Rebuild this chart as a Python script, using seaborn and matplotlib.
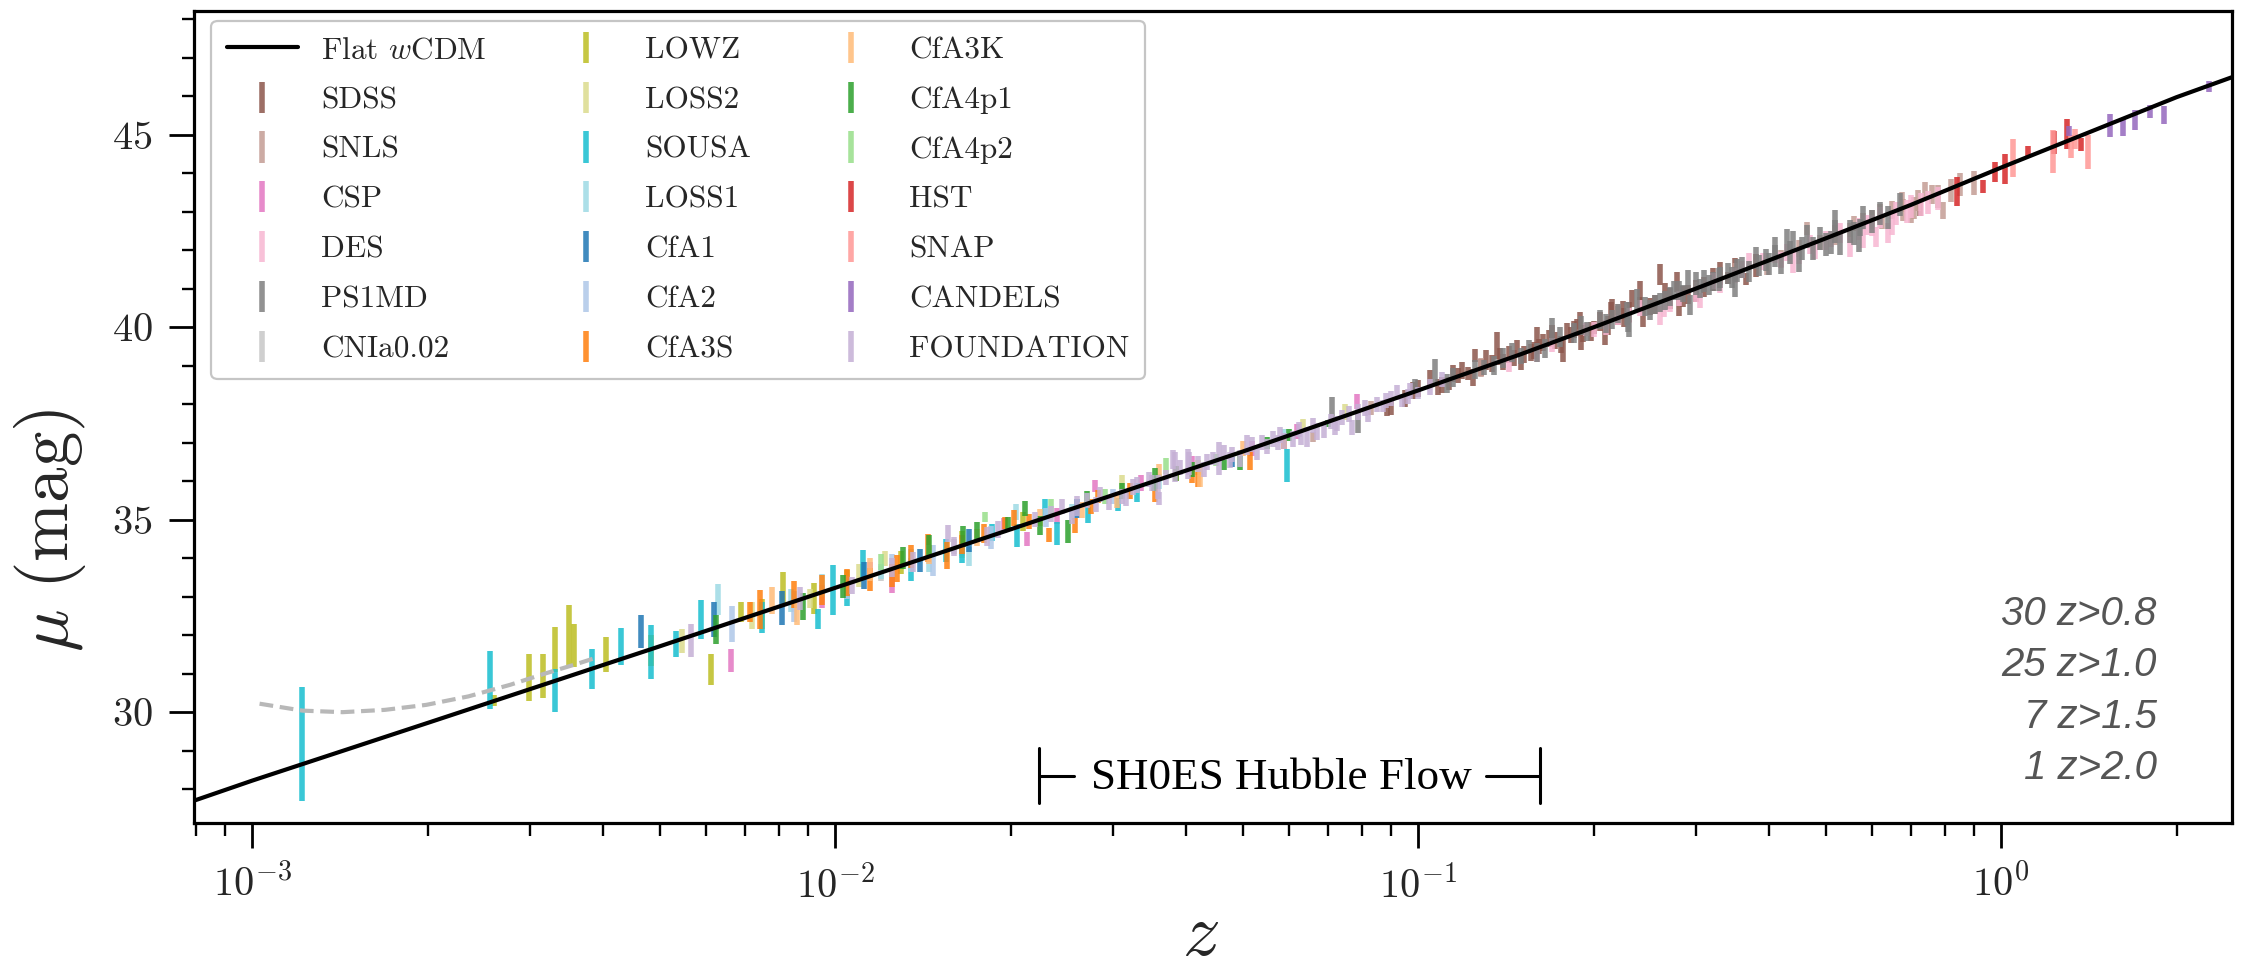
import numpy as np
import pandas as pd
import matplotlib
matplotlib.use("Agg")
import matplotlib.pyplot as plt
from matplotlib.ticker import MultipleLocator, LogLocator, NullFormatter
import seaborn as sns

# ---------------- data ----------------
model_z = [7.95e-4, 1e-3, 2e-3, 5e-3, 1e-2, 2e-2, 5e-2, 0.1, 0.15, 0.2, 0.3, 0.5, 0.7, 1.0, 1.5, 2.0, 2.49]
model_mu = [27.70, 28.22, 29.72, 31.71, 33.23, 34.75, 36.77, 38.36, 39.30, 40.00, 41.01, 42.31, 43.18, 44.15, 45.22, 45.98, 46.50]

pv_z = [1.03e-3, 1.22e-3, 1.43e-3, 1.69e-3, 1.99e-3, 2.35e-3, 2.77e-3, 3.16e-3, 3.60e-3, 3.90e-3]
pv_mu = [30.22, 30.04, 30.00, 30.06, 30.19, 30.41, 30.71, 30.99, 31.25, 31.42]

sdss_z = [0.0884, 0.110, 0.113, 0.119, 0.122, 0.125, 0.131, 0.1365, 0.140, 0.146, 0.152, 0.161, 0.1696, 0.177,
          0.180, 0.1896, 0.200, 0.209, 0.214, 0.215, 0.233, 0.240, 0.243, 0.260, 0.278, 0.340, 0.365, 0.725,
          0.105, 0.117, 0.158, 0.185, 0.225, 0.250, 0.290, 0.310,
          0.095, 0.100, 0.128, 0.134, 0.143, 0.148, 0.156, 0.164, 0.172, 0.183, 0.192, 0.205, 0.220, 0.230,
          0.255, 0.270, 0.300, 0.320, 0.350, 0.380,
          0.090, 0.098, 0.108, 0.115, 0.124, 0.138, 0.150, 0.168, 0.176, 0.187, 0.198, 0.212, 0.226, 0.265,
          0.285, 0.330, 0.160, 0.190, 0.240, 0.280]
sdss_mu = [37.92, 38.50, 38.55, 38.88, 38.80, 39.27, 39.15, 39.53, 39.10, 39.20, 39.30, 39.50, 39.88, 39.40,
           39.90, 40.18, 40.00, 39.80, 40.40, 40.48, 40.74, 40.65, 40.25, 41.37, 41.18, 41.28, 41.25, 43.10,
           38.70, 38.75, 39.40, 39.95, 40.45, 40.55, 40.85, 41.05,
           38.15, 38.40, 38.95, 39.05, 39.30, 39.45, 39.35, 39.60, 39.65, 39.80, 39.85, 40.15, 40.30, 40.40,
           40.60, 40.75, 40.95, 41.25, 41.50, 41.60,
           37.95, 38.35, 38.45, 38.80, 38.70, 39.25, 39.10, 39.70, 39.55, 40.00, 39.90, 40.05, 40.25, 40.90,
           40.80, 41.40, 39.75, 39.65, 40.90, 40.60]
sdss_err = [0.22, 0.20, 0.17, 0.22, 0.18, 0.17, 0.25, 0.35, 0.22, 0.20, 0.22, 0.20, 0.17, 0.30,
            0.20, 0.22, 0.17, 0.26, 0.26, 0.26, 0.22, 0.15, 0.25, 0.28, 0.26, 0.15, 0.15, 0.20,
            0.20, 0.20, 0.22, 0.22, 0.24, 0.22, 0.25, 0.25,
            0.22, 0.22, 0.22, 0.22, 0.22, 0.22, 0.22, 0.22, 0.22, 0.22, 0.22, 0.25, 0.25, 0.25,
            0.25, 0.28, 0.28, 0.30, 0.30, 0.30,
            0.22, 0.22, 0.22, 0.22, 0.22, 0.22, 0.22, 0.22, 0.22, 0.22, 0.25, 0.25, 0.25, 0.25,
            0.28, 0.30, 0.25, 0.25, 0.30, 0.30]

snls_z = [0.083, 0.128, 0.220, 0.397, 0.464, 0.490, 0.560, 0.625, 0.675, 0.700, 0.740, 0.760, 0.795, 0.066, 0.58, 0.65,
          0.30, 0.35, 0.42, 0.52, 0.60, 0.68, 0.72, 0.78, 0.82, 0.90, 0.45, 0.55, 0.62, 0.71, 0.85]
snls_mu = [37.90, 38.96, 40.40, 41.55, 42.56, 42.20, 42.70, 42.75, 43.25, 43.00, 43.56, 43.45, 43.04, 37.15, 42.75, 43.05,
           40.95, 41.45, 41.80, 42.40, 42.80, 43.05, 43.30, 43.40, 43.55, 43.75, 42.05, 42.45, 42.95, 43.10, 43.70]
snls_err = [0.18, 0.25, 0.20, 0.20, 0.17, 0.20, 0.20, 0.20, 0.26, 0.30, 0.22, 0.25, 0.22, 0.13, 0.22, 0.24,
            0.22, 0.22, 0.22, 0.25, 0.25, 0.28, 0.28, 0.30, 0.30, 0.30, 0.22, 0.25, 0.25, 0.28, 0.30]

csp_z = [6.62e-3, 1.15e-2, 2.13e-2, 2.79e-2, 0.041, 0.0785, 0.0165, 0.024, 0.0335, 0.052, 0.062, 0.0095, 0.0125, 0.0195]
csp_mu = [31.35, 33.75, 34.50, 35.87, 36.45, 38.08, 34.25, 35.10, 35.95, 36.85, 37.30, 33.00, 33.35, 34.85]
csp_err = [0.30, 0.15, 0.17, 0.15, 0.20, 0.19, 0.20, 0.20, 0.20, 0.20, 0.20, 0.30, 0.25, 0.20]

des_z = [0.143, 0.194, 0.220, 0.264, 0.305, 0.370, 0.410, 0.450, 0.510, 0.550, 0.590, 0.610, 0.640, 0.17, 0.33, 0.48,
         0.20, 0.24, 0.28, 0.32, 0.35, 0.39, 0.43, 0.47, 0.53, 0.57, 0.62, 0.66, 0.69, 0.73, 0.78,
         0.16, 0.21, 0.23, 0.27, 0.30, 0.36, 0.42, 0.50, 0.60, 0.70, 0.75, 0.26, 0.44, 0.58, 0.65]
des_mu = [39.02, 39.95, 40.20, 40.45, 40.70, 41.72, 41.85, 41.85, 42.30, 42.10, 42.65, 42.35, 42.45, 39.55, 41.10, 42.00,
          39.95, 40.50, 40.75, 41.20, 41.35, 41.70, 41.95, 42.15, 42.45, 42.55, 42.85, 42.95, 43.00, 43.20, 43.35,
          39.30, 40.00, 40.30, 40.60, 40.85, 41.50, 41.75, 42.25, 42.65, 43.15, 43.25, 40.30, 41.70, 42.35, 42.70]
des_err = [0.18, 0.17, 0.13, 0.17, 0.20, 0.20, 0.17, 0.20, 0.20, 0.26, 0.26, 0.26, 0.26, 0.18, 0.20, 0.22,
           0.20, 0.20, 0.20, 0.20, 0.20, 0.22, 0.22, 0.25, 0.25, 0.28, 0.28, 0.30, 0.30, 0.30, 0.30,
           0.20, 0.20, 0.20, 0.20, 0.20, 0.22, 0.22, 0.25, 0.28, 0.30, 0.30, 0.25, 0.30, 0.30, 0.30]

ps1_z = [0.0712, 0.079, 0.0989, 0.107, 0.155, 0.228, 0.237, 0.229, 0.285, 0.293, 0.300, 0.315, 0.328, 0.352,
         0.385, 0.420, 0.429, 0.440, 0.475, 0.530, 0.573, 0.19, 0.205, 0.255, 0.27,
         0.115, 0.125, 0.135, 0.145, 0.165, 0.175, 0.195, 0.215, 0.245, 0.265, 0.280, 0.305, 0.320, 0.340,
         0.360, 0.370, 0.395, 0.410, 0.455, 0.490, 0.510, 0.550, 0.600, 0.620, 0.130, 0.150,
         0.112, 0.140, 0.160, 0.185, 0.210, 0.220, 0.250, 0.260, 0.275, 0.310, 0.330, 0.345, 0.380, 0.400,
         0.435, 0.465, 0.500, 0.520, 0.560, 0.580, 0.640, 0.670,
         0.170, 0.230, 0.290, 0.350, 0.410, 0.450, 0.520, 0.570]
ps1_mu = [37.91, 37.52, 38.49, 38.83, 39.50, 40.35, 40.70, 40.14, 40.87, 40.57, 41.15, 41.09, 41.25, 41.48,
          41.60, 41.60, 42.26, 42.25, 42.05, 42.18, 42.60, 40.05, 40.20, 40.60, 40.80,
          38.70, 38.90, 39.00, 39.35, 39.45, 39.75, 39.90, 40.20, 40.55, 40.70, 40.95, 41.00, 41.20, 41.40,
          41.55, 41.45, 41.75, 41.85, 42.05, 42.30, 42.20, 42.50, 42.75, 42.95, 38.95, 39.25,
          38.55, 39.20, 39.35, 39.85, 40.10, 40.35, 40.45, 40.65, 40.95, 41.20, 41.30, 41.30, 41.80, 41.65,
          41.95, 42.35, 42.15, 42.50, 42.45, 42.85, 42.85, 43.20,
          39.95, 40.05, 41.20, 41.10, 42.05, 41.75, 42.70, 42.30]
ps1_err = [0.28, 0.27, 0.17, 0.35, 0.17, 0.30, 0.30, 0.27, 0.22, 0.26, 0.30, 0.26, 0.30, 0.30,
           0.27, 0.22, 0.30, 0.25, 0.30, 0.30, 0.22, 0.25, 0.25, 0.25, 0.25,
           0.25, 0.25, 0.25, 0.25, 0.25, 0.25, 0.25, 0.25, 0.25, 0.25, 0.25, 0.25, 0.25, 0.28,
           0.28, 0.28, 0.28, 0.28, 0.30, 0.30, 0.30, 0.30, 0.30, 0.30, 0.20, 0.20,
           0.25, 0.25, 0.25, 0.25, 0.25, 0.25, 0.25, 0.25, 0.25, 0.28, 0.28, 0.28, 0.28, 0.28,
           0.30, 0.30, 0.30, 0.30, 0.30, 0.30, 0.30, 0.30,
           0.30, 0.30, 0.30, 0.30, 0.30, 0.30, 0.35, 0.35]

cnia_z = [1.2e-2, 1.6e-2]
cnia_mu = [33.60, 34.30]
cnia_err = [0.20, 0.20]

lowz_z = [2.60e-3, 2.98e-3, 3.15e-3, 3.31e-3, 3.49e-3, 3.56e-3, 4.05e-3, 4.83e-3, 6.13e-3, 6.90e-3, 8.15e-3,
          0.0105, 0.013, 0.0165, 0.021, 0.0075, 0.0092]
lowz_mu = [30.30, 30.89, 30.94, 31.63, 32.00, 31.74, 31.50, 31.60, 31.11, 32.60, 33.21,
           33.35, 33.90, 34.40, 34.95, 32.55, 32.95]
lowz_err = [0.15, 0.61, 0.58, 0.58, 0.78, 0.56, 0.45, 0.40, 0.41, 0.26, 0.43,
            0.35, 0.30, 0.30, 0.25, 0.40, 0.40]

loss2_z = [5.46e-3, 9.06e-3, 1.22e-2, 3.10e-2, 0.0636, 0.075, 0.0165, 0.042, 0.0072, 0.011]
loss2_mu = [31.85, 32.95, 34.00, 35.98, 37.45, 37.80, 34.25, 36.35, 32.50, 33.55]
loss2_err = [0.30, 0.25, 0.20, 0.18, 0.17, 0.20, 0.25, 0.20, 0.35, 0.30]

sousa_z = [1.22e-3, 2.56e-3, 3.31e-3, 3.83e-3, 4.30e-3, 4.83e-3, 5.34e-3, 5.90e-3, 9.36e-3, 9.93e-3, 1.116e-2,
           1.65e-2, 1.86e-2, 2.29e-2, 2.40e-2, 2.72e-2, 3.06e-2, 0.0597, 0.0135, 0.0205, 0.033,
           0.0075, 0.0105, 0.0155]
sousa_mu = [29.18, 30.84, 30.57, 31.13, 31.70, 31.57, 31.77, 32.41, 32.43, 33.17, 33.84,
            34.10, 34.68, 35.30, 34.64, 35.12, 35.40, 36.42, 33.70, 34.60, 35.70,
            32.45, 33.10, 34.20]
sousa_err = [1.48, 0.75, 0.56, 0.52, 0.48, 0.70, 0.33, 0.50, 0.26, 0.65, 0.37,
             0.22, 0.22, 0.25, 0.30, 0.20, 0.16, 0.43, 0.30, 0.30, 0.25,
             0.40, 0.35, 0.30]

loss1_z = [6.30e-3, 8.40e-3, 1.20e-2, 1.70e-2, 2.04e-2, 3.60e-2, 0.0588, 0.0145, 0.0255, 0.0095, 0.0135]
loss1_mu = [32.93, 32.90, 33.65, 34.05, 35.20, 36.00, 37.23, 33.90, 35.20, 33.30, 33.95]
loss1_err = [0.41, 0.30, 0.20, 0.25, 0.20, 0.20, 0.13, 0.25, 0.20, 0.30, 0.30]

cfa1_z = [4.65e-3, 8.10e-3, 1.40e-2, 0.048, 0.017, 0.026, 0.0062, 0.0112]
cfa1_mu = [32.09, 32.70, 33.95, 36.50, 34.45, 35.30, 32.40, 33.55]
cfa1_err = [0.43, 0.44, 0.30, 0.12, 0.30, 0.25, 0.45, 0.35]

cfa2_z = [6.66e-3, 1.47e-2, 3.00e-2, 0.0105, 0.0185, 0.023, 0.0085, 0.0125]
cfa2_mu = [32.30, 33.95, 35.60, 33.25, 34.55, 35.05, 32.75, 33.80]
cfa2_err = [0.47, 0.40, 0.20, 0.30, 0.30, 0.25, 0.40, 0.30]

cfa3s_z = [7.15e-3, 7.43e-3, 9.50e-3, 1.05e-2, 1.277e-2, 1.445e-2, 1.554e-2, 1.96e-2, 2.03e-2, 2.33e-2, 2.58e-2,
           2.83e-2, 3.54e-2, 4.10e-2, 4.20e-2, 0.0515, 0.059, 0.0165, 0.0215, 0.0275, 0.032, 0.0385, 0.0115, 0.0135,
           0.0085, 0.0125, 0.018]
cfa3s_mu = [32.60, 32.67, 33.17, 33.38, 33.73, 34.27, 34.08, 34.92, 35.05, 34.60, 34.85,
            35.60, 35.63, 36.15, 36.05, 36.55, 36.97, 34.35, 34.95, 35.35, 35.75, 36.20, 33.45, 34.05,
            33.05, 33.55, 34.65]
cfa3s_err = [0.25, 0.50, 0.39, 0.35, 0.35, 0.37, 0.35, 0.15, 0.20, 0.18, 0.20,
             0.17, 0.17, 0.20, 0.20, 0.25, 0.12, 0.25, 0.20, 0.20, 0.20, 0.20, 0.30, 0.30,
             0.35, 0.30, 0.25]

cfa3k_z = [8.60e-3, 0.0423, 0.0175, 0.0265, 0.0145, 0.0225, 0.0305, 0.036, 0.050, 0.0078, 0.0115]
cfa3k_mu = [32.56, 36.13, 34.55, 35.25, 34.10, 35.05, 35.50, 36.25, 36.85, 32.90, 33.70]
cfa3k_err = [0.30, 0.28, 0.22, 0.20, 0.25, 0.22, 0.20, 0.20, 0.20, 0.35, 0.30]

cfa4p1_z = [6.25e-3, 1.03e-2, 1.31e-2, 1.66e-2, 1.98e-2, 2.12e-2, 2.51e-2, 3.52e-2, 3.85e-2, 0.0354, 0.0465, 0.0495, 0.070,
            0.0175, 0.027, 0.031, 0.041, 0.055, 0.060, 0.0088, 0.0145, 0.0225]
cfa4p1_mu = [32.15, 33.26, 34.00, 34.57, 34.90, 35.30, 34.70, 35.95, 36.20, 36.07, 36.45, 36.47, 37.50,
             34.70, 35.55, 35.75, 36.30, 37.00, 37.20, 32.75, 34.30, 34.85]
cfa4p1_err = [0.37, 0.30, 0.28, 0.27, 0.17, 0.20, 0.30, 0.20, 0.20, 0.28, 0.15, 0.18, 0.10,
              0.25, 0.20, 0.20, 0.20, 0.15, 0.15, 0.35, 0.30, 0.25]

cfa4p2_z = [1.81e-2, 1.20e-2, 0.045, 0.0235, 0.029, 0.037]
cfa4p2_mu = [35.07, 33.90, 36.55, 35.35, 35.60, 36.40]
cfa4p2_err = [0.13, 0.20, 0.15, 0.20, 0.20, 0.20]

hst_z = [0.839, 0.933, 0.977, 1.016, 1.114, 1.235, 1.300, 1.370]
hst_mu = [43.53, 43.65, 44.03, 44.12, 44.58, 44.80, 45.03, 44.75]
hst_err = [0.37, 0.17, 0.26, 0.39, 0.13, 0.30, 0.39, 0.17]

snap_z = [1.05, 1.23, 1.32, 1.34, 1.41]
snap_mu = [44.40, 44.58, 44.70, 44.90, 44.56]
snap_err = [0.50, 0.56, 0.30, 0.26, 0.45]

candels_z = [1.31, 1.54, 1.62, 1.70, 1.80, 1.906, 2.27]
candels_mu = [45.10, 45.25, 45.20, 45.38, 45.62, 45.52, 46.26]
candels_err = [0.13, 0.30, 0.24, 0.26, 0.17, 0.24, 0.15]

found_z = [5.67e-3, 8.70e-3, 1.07e-2, 1.36e-2, 1.56e-2, 1.82e-2, 2.60e-2, 3.24e-2, 3.60e-2, 3.80e-2, 4.03e-2,
           0.0358, 0.0383, 0.0405, 0.0445, 0.0455, 0.0508, 0.055, 0.0575, 0.061, 0.0645, 0.069, 0.0725, 0.077,
           0.087, 0.092, 0.094, 0.100, 0.022, 0.028, 0.031, 0.033, 0.043, 0.048, 0.053,
           0.0235, 0.0245, 0.027, 0.0295, 0.0345, 0.037, 0.042, 0.0465, 0.0495, 0.052, 0.0565, 0.059, 0.0625,
           0.067, 0.071, 0.074, 0.079, 0.082, 0.085, 0.090, 0.097, 0.105, 0.110, 0.016, 0.019, 0.0125,
           0.0255, 0.0285, 0.0315, 0.035, 0.039, 0.0435, 0.0475, 0.054, 0.058, 0.063, 0.066, 0.072, 0.076,
           0.081, 0.088, 0.096]
found_mu = [31.87, 32.95, 33.30, 33.90, 34.65, 34.56, 35.37, 35.85, 35.55, 36.57, 36.46,
            35.85, 36.37, 36.45, 36.60, 36.60, 36.93, 36.90, 37.00, 37.10, 37.15, 37.33, 37.50, 37.40,
            37.95, 38.30, 38.10, 38.30, 35.00, 35.40, 35.60, 35.90, 36.30, 36.70, 36.75,
            35.15, 35.35, 35.50, 35.45, 36.05, 36.10, 36.45, 36.75, 36.60, 36.95, 37.10, 37.05, 37.35,
            37.30, 37.55, 37.65, 37.80, 37.75, 38.00, 38.15, 38.35, 38.45, 38.65, 34.30, 34.75, 33.75,
            35.10, 35.65, 35.55, 35.95, 36.35, 36.50, 36.55, 37.00, 37.20, 37.15, 37.45, 37.40, 37.75,
            37.90, 38.10, 38.20]
found_err = [0.43, 0.30, 0.22, 0.25, 0.22, 0.25, 0.26, 0.20, 0.17, 0.24, 0.39,
             0.30, 0.39, 0.30, 0.17, 0.43, 0.26, 0.20, 0.20, 0.20, 0.25, 0.20, 0.20, 0.20,
             0.15, 0.20, 0.17, 0.15, 0.20, 0.20, 0.20, 0.20, 0.20, 0.20, 0.20,
             0.22, 0.20, 0.20, 0.20, 0.20, 0.20, 0.20, 0.20, 0.22, 0.20, 0.20, 0.20, 0.20,
             0.22, 0.20, 0.20, 0.20, 0.20, 0.20, 0.20, 0.20, 0.20, 0.20, 0.25, 0.22, 0.25,
             0.22, 0.20, 0.20, 0.20, 0.20, 0.20, 0.20, 0.20, 0.20, 0.20, 0.20, 0.20, 0.20,
             0.20, 0.20, 0.20]

survey_names = ["SDSS", "SNLS", "CSP", "DES", "PS1MD", "CNIa0.02", "LOWZ", "LOSS2", "SOUSA", "LOSS1",
                "CfA1", "CfA2", "CfA3S", "CfA3K", "CfA4p1", "CfA4p2", "HST", "SNAP", "CANDELS", "FOUNDATION"]
survey_data = [(sdss_z, sdss_mu, sdss_err), (snls_z, snls_mu, snls_err), (csp_z, csp_mu, csp_err),
               (des_z, des_mu, des_err), (ps1_z, ps1_mu, ps1_err), (cnia_z, cnia_mu, cnia_err),
               (lowz_z, lowz_mu, lowz_err), (loss2_z, loss2_mu, loss2_err), (sousa_z, sousa_mu, sousa_err),
               (loss1_z, loss1_mu, loss1_err), (cfa1_z, cfa1_mu, cfa1_err), (cfa2_z, cfa2_mu, cfa2_err),
               (cfa3s_z, cfa3s_mu, cfa3s_err), (cfa3k_z, cfa3k_mu, cfa3k_err), (cfa4p1_z, cfa4p1_mu, cfa4p1_err),
               (cfa4p2_z, cfa4p2_mu, cfa4p2_err), (hst_z, hst_mu, hst_err), (snap_z, snap_mu, snap_err),
               (candels_z, candels_mu, candels_err), (found_z, found_mu, found_err)]

count_labels = ["30 z>0.8", "25 z>1.0", "7 z>1.5", "1 z>2.0"]

# ---------------- style ----------------
sns.set_theme(style="ticks")
plt.rcParams.update({
    "font.family": ["cmr10"],
    "mathtext.fontset": "cm",
    "axes.formatter.use_mathtext": True,
    "axes.unicode_minus": True,
})

W, H = 2247, 980
fig = plt.figure(figsize=(W / 100, H / 100), dpi=100)
ax_l, ax_r, ax_t, ax_b = 194, 2232, 11, 823
ax = fig.add_axes([ax_l / W, 1 - ax_b / H, (ax_r - ax_l) / W, (ax_b - ax_t) / H])
ax.set_xscale("log")

tab20 = sns.color_palette("tab20")
handles = []
for i, (name, (zz, mm, ee)) in enumerate(zip(survey_names, survey_data)):
    col = tab20[(10 + i) % 20]
    cont = ax.errorbar(zz, mm, yerr=ee, fmt="none", ecolor=col, elinewidth=4.0, capsize=0,
                       alpha=0.85, label=name, zorder=2)
    handles.append(cont)

model_df = pd.DataFrame({"z": model_z, "mu": model_mu})
sns.lineplot(data=model_df, x="z", y="mu", ax=ax, color="black", lw=3.0, zorder=5,
             label=r"Flat $w$CDM", sort=True, estimator=None)
pv_df = pd.DataFrame({"z": pv_z, "mu": pv_mu})
sns.lineplot(data=pv_df, x="z", y="mu", ax=ax, color="#b8b8b8", lw=3.0, zorder=4,
             estimator=None, legend=False)
ax.lines[-1].set_dashes((3.3, 1.6))
line_handle = [l for l in ax.lines if l.get_label() == r"Flat $w$CDM"][0]

ax.set_xlim(7.95e-4, 2.49)
ax.set_ylim(27.12, 48.22)

ax.xaxis.set_major_locator(LogLocator(base=10, numticks=10))
ax.xaxis.set_minor_locator(LogLocator(base=10, subs=np.arange(2, 10), numticks=30))
ax.xaxis.set_minor_formatter(NullFormatter())
ax.yaxis.set_major_locator(MultipleLocator(5))
ax.yaxis.set_minor_locator(MultipleLocator(1))

ax.tick_params(axis="both", which="major", length=18, width=2.0, color="black", direction="out", labelsize=29)
ax.tick_params(axis="both", which="minor", length=9, width=1.7, color="black", direction="out")
ax.tick_params(axis="y", which="major", pad=12)
ax.tick_params(axis="x", which="major", pad=12)
ax.tick_params(top=False, right=False, which="both")
for sp in ax.spines.values():
    sp.set_linewidth(2.3)
    sp.set_color("black")

ax.set_xlabel(r"$z$", fontsize=54)
ax.set_ylabel(r"$\mu\ (\mathrm{mag})$", fontsize=51)
ax.xaxis.set_label_coords(0.494, -0.098)
ax.yaxis.set_label_coords(-0.052, 0.36)

leg = ax.legend([line_handle] + handles, [r"Flat $w$CDM"] + survey_names, ncol=3, loc="upper left",
                bbox_to_anchor=(0.0085, 0.988), borderaxespad=0, fontsize=22.5, handlelength=2.27,
                handletextpad=0.74, columnspacing=2.06, labelspacing=0.7, borderpad=0.5,
                frameon=True, fancybox=True, framealpha=0.9, edgecolor="0.75")
leg.get_frame().set_linewidth(1.6)

# SH0ES Hubble flow bracket
z_lo, z_hi = 0.0224, 0.1616
y_mid, y_half = 28.35, 0.72
ax.plot([z_lo, z_lo], [y_mid - y_half, y_mid + y_half], color="black", lw=2.2, zorder=6)
ax.plot([z_hi, z_hi], [y_mid - y_half, y_mid + y_half], color="black", lw=2.2, zorder=6)
ax.plot([z_lo, 0.0257], [y_mid, y_mid], color="black", lw=2.2, zorder=6)
ax.plot([0.1310, z_hi], [y_mid, y_mid], color="black", lw=2.2, zorder=6)
ax.text(0.0582, y_mid - 0.07, "SH0ES Hubble Flow", ha="center", va="center", fontsize=32.5,
        family="Liberation Serif", color="black")

# counts text
for k, lab in enumerate(count_labels):
    ax.text(0.963, 0.258 - k * 0.0635, lab, transform=ax.transAxes, ha="right", va="center",
            fontsize=29, family="Liberation Sans", style="italic", color="#555555")

fig.savefig("out.png", dpi=100)
